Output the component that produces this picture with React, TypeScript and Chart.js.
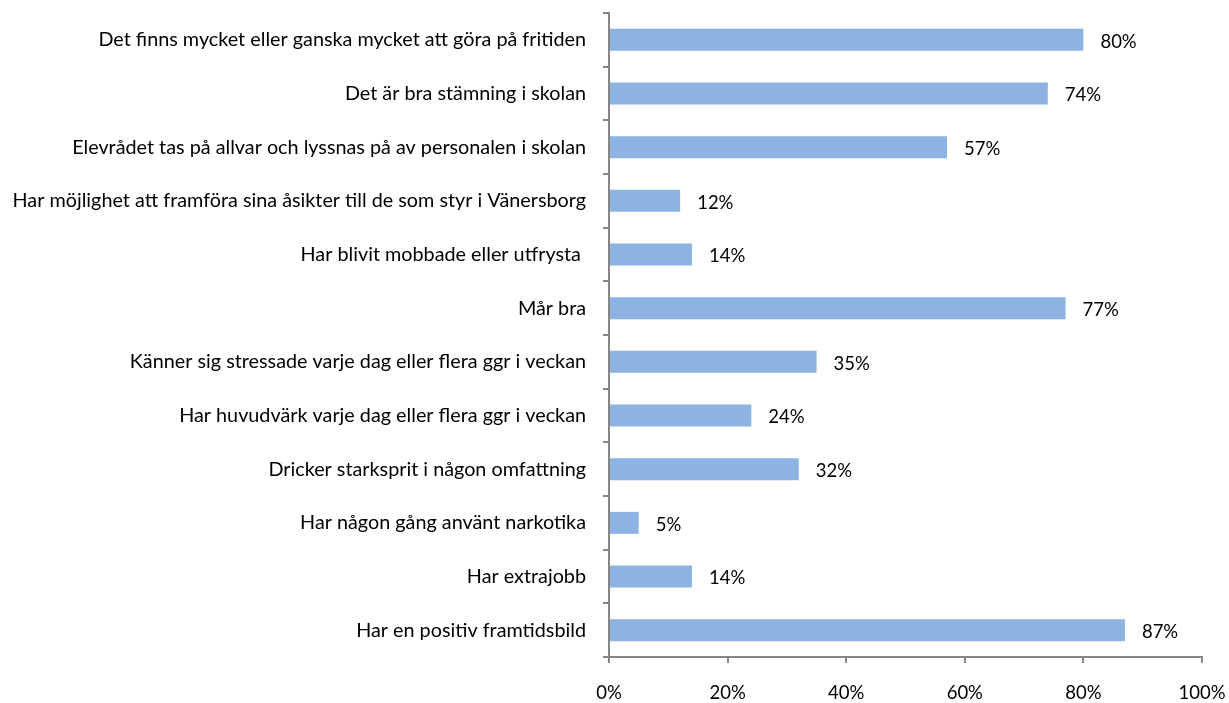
import React, { useEffect, useRef } from "react";
import { Chart, registerables } from "chart.js";

Chart.register(...registerables);

const categories: string[] = [
  "Det finns mycket eller ganska mycket att göra på fritiden",
  "Det är bra stämning i skolan",
  "Elevrådet tas på allvar och lyssnas på av personalen i skolan",
  "Har möjlighet att framföra sina åsikter till de som styr i Vänersborg",
  "Har blivit mobbade eller utfrysta ",
  "Mår bra",
  "Känner sig stressade varje dag eller flera ggr i veckan",
  "Har huvudvärk varje dag eller flera ggr i veckan",
  "Dricker starksprit i någon omfattning",
  "Har någon gång använt narkotika",
  "Har extrajobb",
  "Har en positiv framtidsbild",
];

const values: number[] = [0.8, 0.74, 0.57, 0.12, 0.14, 0.77, 0.35, 0.24, 0.32, 0.05, 0.14, 0.87];

const xTickValues: number[] = [0, 0.2, 0.4, 0.6, 0.8, 1.0];

const FONT = "Lato, 'Liberation Sans', Arial, sans-serif";

const dataLabels = {
  id: "dataLabels",
  afterDatasetsDraw(chart: any) {
    const ctx = chart.ctx;
    const meta = chart.getDatasetMeta(0);
    ctx.save();
    ctx.font = `18.5px ${FONT}`;
    ctx.fillStyle = "#000000";
    ctx.textAlign = "left";
    ctx.textBaseline = "middle";
    meta.data.forEach((bar: any, i: number) => {
      const v = values[i];
      ctx.fillText(`${Math.round(v * 100)}%`, bar.x + 17, bar.y + 2);
    });
    ctx.restore();
  },
};

export default function App() {
  const ref = useRef<HTMLCanvasElement | null>(null);
  useEffect(() => {
    if (!ref.current) return;
    const chart = new Chart(ref.current, {
      type: "bar",
      data: {
        labels: categories,
        datasets: [
          {
            data: values,
            backgroundColor: "#8DB3E2",
            borderWidth: 0,
            categoryPercentage: 1,
            barPercentage: 0.41,
          },
        ],
      },
      options: {
        indexAxis: "y",
        animation: false,
        responsive: false,
        maintainAspectRatio: false,
        layout: { padding: { top: 13, right: 27, left: 0, bottom: 0 } },
        plugins: { legend: { display: false }, tooltip: { enabled: false } },
        scales: {
          x: {
            min: 0,
            max: 1,
            afterBuildTicks(axis: any) {
              axis.ticks = xTickValues.map((v) => ({ value: v }));
            },
            afterFit(axis: any) {
              axis.height = 703 - 657;
              axis.paddingLeft = 0;
              axis.paddingRight = 0;
            },
            border: { display: true, color: "#868686", width: 2 },
            grid: { drawOnChartArea: false, display: true, color: "#868686", lineWidth: 2, tickLength: 6 },
            ticks: {
              color: "#000000",
              font: { family: FONT, size: 18.5 },
              padding: 19,
              callback: (v: any) => `${Math.round(Number(v) * 100)}%`,
            },
          },
          y: {
            afterFit(axis: any) {
              axis.width = 609;
              axis.paddingTop = 0;
              axis.paddingBottom = 0;
            },
            border: { display: true, color: "#868686", width: 2 },
            grid: { drawOnChartArea: false, display: true, color: "#868686", lineWidth: 2, tickLength: 6, offset: true },
            ticks: {
              color: "#000000",
              font: { family: FONT, size: 19.8 },
              padding: 17,
              autoSkip: false,
            },
          },
        },
      },
      plugins: [dataLabels],
    });
    return () => chart.destroy();
  }, []);
  return (
    <div style={{ position: "absolute", left: 0, top: 0, width: 1229, height: 703, background: "#fff" }}>
      <canvas ref={ref} width={1229} height={703} style={{ width: 1229, height: 703 }} />
    </div>
  );
}
